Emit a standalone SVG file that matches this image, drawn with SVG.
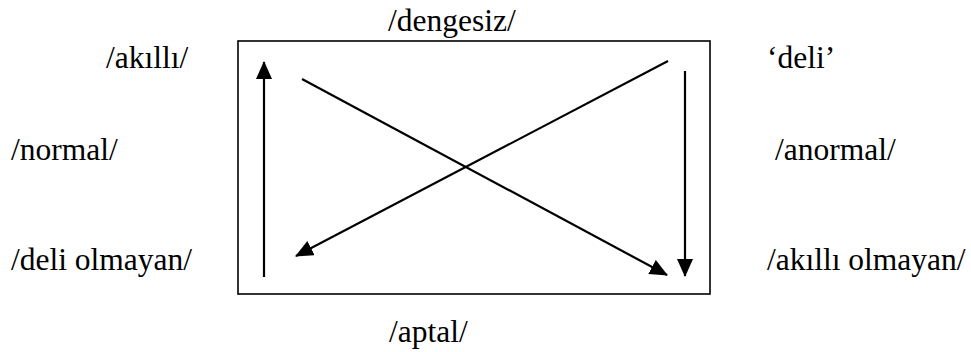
<svg xmlns="http://www.w3.org/2000/svg" width="971" height="352" viewBox="0 0 971 352">
  <style>
    .box { fill: none; stroke: #000; stroke-width: 1.6; }
    .conn { stroke: #000; stroke-width: 2.2; fill: none; marker-end: url(#arrow); }
  </style>
  <defs>
    <marker id="arrow" markerUnits="userSpaceOnUse" markerWidth="18" markerHeight="16" refX="17" refY="8" orient="auto">
      <path d="M0,0 L18,8 L0,16 z" fill="#000"/>
    </marker>
  </defs>
  <rect width="971" height="352" fill="#fff"/>
  <g id="frame"><rect class="box" x="238" y="41" width="472" height="253"/></g>
  <g id="n-dengesiz"><text style="font-family:'Liberation Serif',serif;font-size:31.5px" x="388" y="31">/dengesiz/</text></g>
  <g id="n-akilli"><text style="font-family:'Liberation Serif',serif;font-size:31.5px" x="106" y="68">/akıllı/</text></g>
  <g id="n-deli"><text style="font-family:'Liberation Serif',serif;font-size:31.5px" x="767" y="68">‘deli’</text></g>
  <g id="n-normal"><text style="font-family:'Liberation Serif',serif;font-size:31.5px" x="11" y="160">/normal/</text></g>
  <g id="n-anormal"><text style="font-family:'Liberation Serif',serif;font-size:31.5px" x="775" y="160">/anormal/</text></g>
  <g id="n-deli-olmayan"><text style="font-family:'Liberation Serif',serif;font-size:31.5px" x="11" y="270">/deli olmayan/</text></g>
  <g id="n-akilli-olmayan"><text style="font-family:'Liberation Serif',serif;font-size:31.5px" x="767" y="270">/akıllı olmayan/</text></g>
  <g id="n-aptal"><text style="font-family:'Liberation Serif',serif;font-size:31.5px" x="389" y="342">/aptal/</text></g>
  <g id="connectors">
    <line class="conn" x1="264" y1="277" x2="264" y2="62"/>
    <line class="conn" x1="685" y1="71" x2="685" y2="276"/>
    <line class="conn" x1="302" y1="79" x2="667" y2="275"/>
    <line class="conn" x1="668" y1="61" x2="296" y2="256"/>
  </g>
</svg>
